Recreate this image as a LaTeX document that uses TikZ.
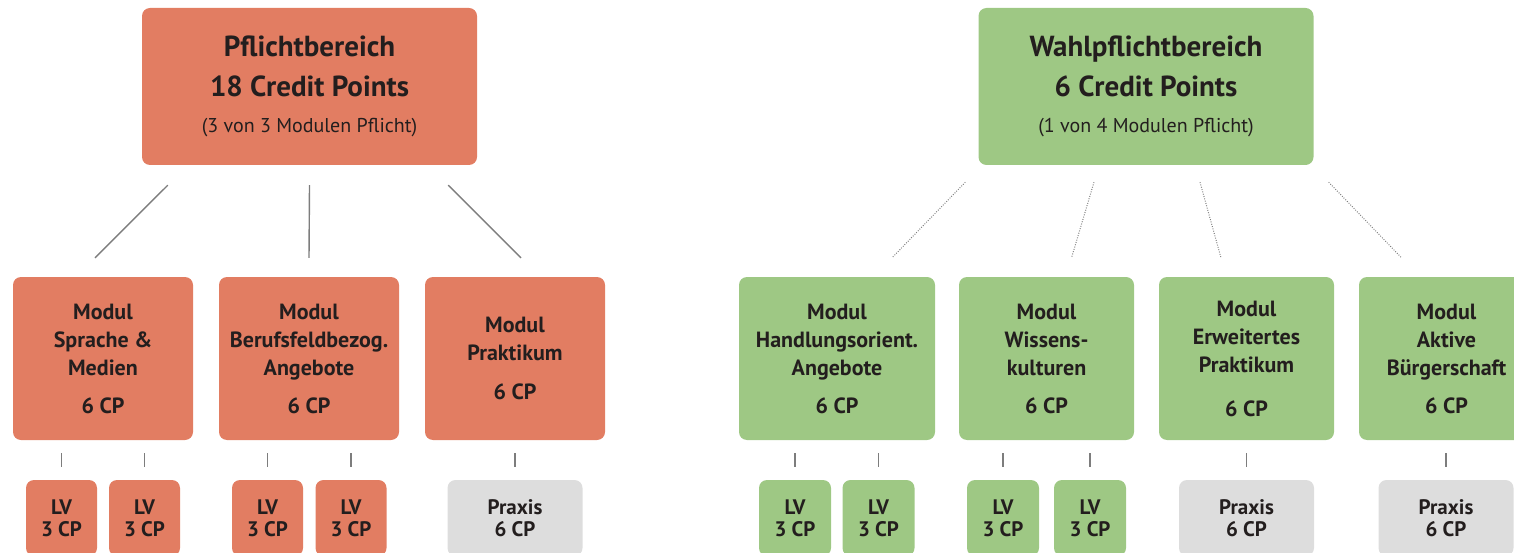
\documentclass[tikz,border=0pt]{standalone}
\usepackage{fontspec}
\setmainfont{PT Sans}

\definecolor{pflicht}{RGB}{226,125,98}
\definecolor{wahl}{RGB}{158,200,132}
\definecolor{grau}{RGB}{221,221,221}
\definecolor{linie}{RGB}{125,125,125}
\definecolor{schrift}{RGB}{35,30,30}

\begin{document}
\begin{tikzpicture}[x=1pt,y=-1pt,
    box/.style={rectangle,rounded corners=8pt,inner sep=0pt,align=center,
        text=schrift,font=\bfseries\fontsize{22}{28}\selectfont},
    head/.style={box,minimum width=335pt,minimum height=157pt,
        font=\bfseries\fontsize{29}{40}\selectfont},
    modul/.style={box,minimum height=163pt},
    lv/.style={box,minimum width=71pt,minimum height=76pt,
        font=\bfseries\fontsize{21}{22}\selectfont},
    praxis/.style={lv,fill=grau,minimum width=135pt},
    link/.style={draw=linie,line width=1.4pt},
    dotlink/.style={draw=linie,line width=1pt,dash pattern=on 0.9pt off 1.5pt},
    tick/.style={draw=linie,line width=1.6pt,shorten <=13pt,shorten >=13pt}]

\useasboundingbox (0,0) rectangle (1514,553);
\clip (0,0) rectangle (1514,553);

% Pflichtbereich
\node [head,fill=pflicht] (pflicht) at (309.5,86.5)
    {Pflichtbereich\\18 Credit Points\\[-4pt]
     {\mdseries\fontsize{20}{24}\selectfont (3 von 3 Modulen Pflicht)}};

\node [modul,fill=pflicht,minimum width=180pt] (modSprache) at (103,358.5)
    {Modul\\Sprache \&\\Medien\\[10pt]6 CP};
\node [modul,fill=pflicht,minimum width=180pt] (modBeruf) at (309,358.5)
    {Modul\\Berufsfeldbezog.\\Angebote\\[10pt]6 CP};
\node [modul,fill=pflicht,minimum width=180pt] (modPrakt) at (515,358.5)
    {Modul\\Praktikum\\[11pt]6 CP};

\node [lv,fill=pflicht] (lvA) at (61.5,518) {LV\\3 CP};
\node [lv,fill=pflicht] (lvB) at (144.5,518) {LV\\3 CP};
\node [lv,fill=pflicht] (lvC) at (267.5,518) {LV\\3 CP};
\node [lv,fill=pflicht] (lvD) at (351,518) {LV\\3 CP};
\node [praxis] (praxisA) at (515,518) {Praxis\\6 CP};

% Wahlpflichtbereich
\node [head,fill=wahl] (wahl) at (1146,86.5)
    {Wahlpflichtbereich\\6 Credit Points\\[-4pt]
     {\mdseries\fontsize{20}{24}\selectfont (1 von 4 Modulen Pflicht)}};

\node [modul,fill=wahl,minimum width=196pt] (modHandl) at (837,358.5)
    {Modul\\Handlungsorient.\\Angebote\\[10pt]6 CP};
\node [modul,fill=wahl,minimum width=175pt] (modWissen) at (1046.5,358.5)
    {Modul\\Wissens-\\kulturen\\[10pt]6 CP};
\node [modul,fill=wahl,minimum width=175pt] (modErw) at (1246.5,358.5)
    {Modul\\Erweitertes\\Praktikum\\[16pt]6 CP};
\node [modul,fill=wahl,minimum width=175pt] (modBuerger) at (1446.5,358.5)
    {Modul\\Aktive\\Bürgerschaft\\[10pt]6 CP};

\node [lv,fill=wahl,minimum width=72pt] (lvE) at (795,518) {LV\\3 CP};
\node [lv,fill=wahl,minimum width=72pt] (lvF) at (878.5,518) {LV\\3 CP};
\node [lv,fill=wahl,minimum width=72pt] (lvG) at (1003,518) {LV\\3 CP};
\node [lv,fill=wahl,minimum width=72pt] (lvH) at (1090,518) {LV\\3 CP};
\node [praxis] (praxisB) at (1246.5,518) {Praxis\\6 CP};
\node [praxis] (praxisC) at (1446,518) {Praxis\\6 CP};

\path [link]
    ([shift={(26,20)}]pflicht.south west) -- ([shift={(-8,-19)}]modSprache.north)
    ([shift={(0,20)}]pflicht.south) -- ([shift={(0,-19)}]modBeruf.north)
    ([shift={(-29,20)}]pflicht.south east) -- ([shift={(6,-19)}]modPrakt.north)
;

\path [dotlink]
    ([shift={(-13,17)}]wahl.south west) -- ([shift={(55,-19)}]modHandl.north)
    ([shift={(-52,17)}]wahl.south) -- ([shift={(25,-19)}]modWissen.north)
    ([shift={(54,17)}]wahl.south) -- ([shift={(-25.5,-19)}]modErw.north)
    ([shift={(15,17)}]wahl.south east) -- ([shift={(-45,-19)}]modBuerger.north)
;

\foreach \m/\l in {modSprache/lvA,modSprache/lvB,modBeruf/lvC,modBeruf/lvD,
    modPrakt/praxisA,modHandl/lvE,modHandl/lvF,modWissen/lvG,modWissen/lvH,
    modErw/praxisB,modBuerger/praxisC}
  \draw [tick] (\l.north |- \m.south) -- (\l.north);

\end{tikzpicture}
\end{document}
